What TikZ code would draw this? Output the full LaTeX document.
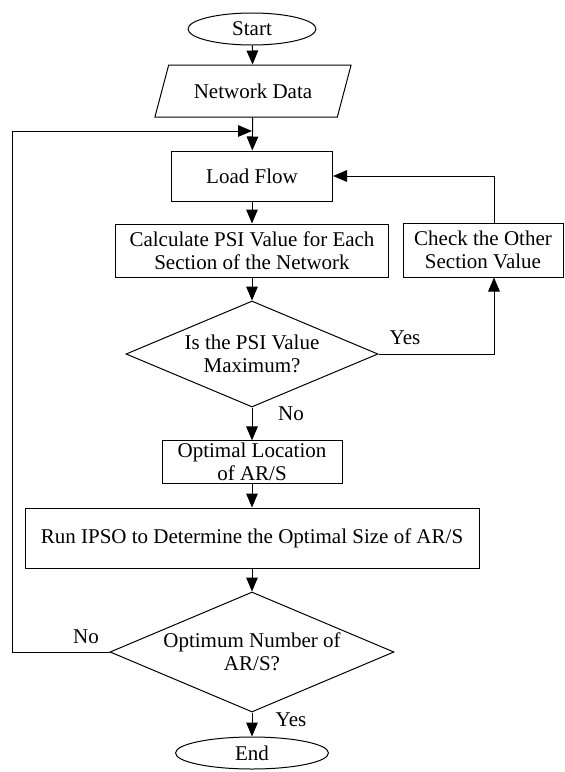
\documentclass[tikz,border=0pt]{standalone}
\usepackage{fontspec}
\setmainfont{Liberation Serif}
\usepackage{tikz}
\usetikzlibrary{calc,shapes,arrows.meta}
\tikzset{
   flow node/.style={rectangle,draw,align=center,font=\fontsize{10.5}{11.7}\selectfont,inner sep=1pt},
   process node/.style={flow node},
   terminal node/.style={flow node,ellipse},
   data node/.style={flow node,trapezium,trapezium left angle=62,trapezium right angle=118,trapezium stretches=true},
   decision node/.style={flow node,diamond,aspect=2.4,inner sep=0pt},
   answer/.style={font=\fontsize{10.5}{11.7}\selectfont,inner sep=0pt}
}

\begin{document}
\begin{tikzpicture}[auto,
                    ->,>={Triangle[length=7pt,width=5.8pt]},line width=0.5pt,
                    x=0.5pt,y=0.5pt]
\useasboundingbox (0,0) rectangle (564,-772);
\node[terminal node,minimum width=64pt,minimum height=16pt] (start) at (252,-29) {Start};
\node[data node,minimum width=98.5pt,minimum height=26pt] (data) at (253,-91) {Network Data};
\node[process node,minimum width=80.5pt,minimum height=25pt] (load) at (252,-176) {Load Flow};
\node[process node,minimum width=136.5pt,minimum height=26.5pt] (calc) at (252,-250.5) {Calculate PSI Value for Each\\Section of the Network};
\node[process node,minimum width=80pt,minimum height=27pt] (check) at (483,-250) {Check the Other\\Section Value};
\node[decision node,minimum width=126pt,minimum height=53pt] (maxq) at (252,-354) {Is the PSI Value\\Maximum?};
\node[process node,minimum width=90pt,minimum height=21pt] (loc) at (252,-462) {Optimal Location\\of AR/S};
\node[process node,minimum width=227pt,minimum height=30pt] (ipso) at (252,-538) {Run IPSO to Determine the Optimal Size of AR/S};
\node[decision node,minimum width=142pt,minimum height=60pt] (numq) at (252,-652) {Optimum Number of\\AR/S?};
\node[terminal node,minimum width=76.5pt,minimum height=16pt] (end) at (252,-753) {End};
%
\coordinate (join) at (252,-131);
\coordinate (back) at (12,-131);
%
\node[answer] (yes1) at (405,-338) {Yes};
\node[answer] (no1) at (291,-414) {No};
\node[answer] (no2) at (86,-637) {No};
\node[answer] (yes2) at (291,-720) {Yes};
%
\path
  (start) edge (data)
  (data) edge (load)
  (load) edge (calc)
  (calc) edge (maxq)
  (maxq) edge (loc)
  (loc) edge (ipso)
  (ipso) edge (numq)
  (numq) edge (end)
  ;
\draw (maxq.east) -| ($ (check.south) + (11,0) $);
\draw ($ (check.north) + (11,0) $) |- (load.east);
\draw (numq.west) -| (back) -- (join);
\end{tikzpicture}
\end{document}
